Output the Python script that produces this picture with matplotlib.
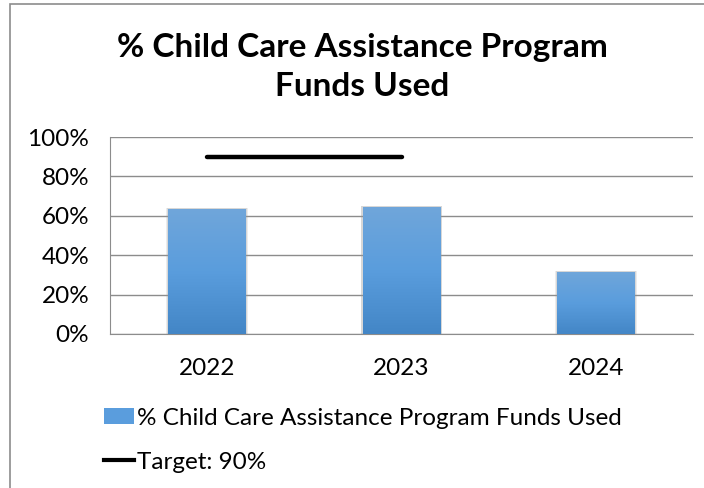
import matplotlib
matplotlib.use("Agg")
import matplotlib.pyplot as plt
import numpy as np
from matplotlib.patches import Rectangle, Patch
from matplotlib.lines import Line2D
from matplotlib.colors import LinearSegmentedColormap

years = ["2022", "2023", "2024"]
funds_used = [63.5, 64.5, 31.5]
target_years = ["2022", "2023"]
target_value = [90, 90]
yticks = [0, 20, 40, 60, 80, 100]
title = "% Child Care Assistance Program\nFunds Used"
bar_label = "% Child Care Assistance Program Funds Used"
target_label = "Target: 90%"

FONT = "Lato"
W, H = 704, 488
fig = plt.figure(figsize=(W / 100, H / 100), dpi=100)
fig.patch.set_facecolor("white")

# outer border
fig.add_artist(Rectangle((10 / W, -0.1), 1.2, 1 - 4 / H + 0.1, transform=fig.transFigure,
                         fill=False, edgecolor="#8c8c8c", linewidth=1.2))

ax = fig.add_axes([110 / W, 1 - 334 / H, (693 - 110) / W, (334 - 137) / H])
x = np.arange(len(years))
bars = ax.bar(x, funds_used, width=0.40, color="none", zorder=3)

cmap = LinearSegmentedColormap.from_list("g", ["#4386c6", "#5a9ddd", "#70a6da"])
grad = np.linspace(0, 1, 256).reshape(-1, 1)
for b in bars:
    bx, by, bw, bh = b.get_x(), b.get_y(), b.get_width(), b.get_height()
    # soft shadow
    for k, a in [(0.010, 0.18), (0.006, 0.25)]:
        ax.add_patch(Rectangle((bx - k, by), bw + 2 * k, bh + 0.4, facecolor="#9a9a9a",
                               edgecolor="none", alpha=a, zorder=2))
    im = ax.imshow(grad, extent=(bx, bx + bw, by, by + bh), origin="lower",
                   cmap=cmap, aspect="auto", zorder=3)
    im.set_clip_path(b)

tx = [years.index(t) for t in target_years]
ax.plot(tx, target_value, color="black", linewidth=3.2, solid_capstyle="round", zorder=4)

ax.set_xlim(-0.5, len(years) - 0.5)
ax.set_ylim(0, 100)
ax.set_yticks(yticks)
ax.set_yticklabels([f"{v}%" for v in yticks], fontsize=17.5, family=FONT)
ax.set_xticks(x)
ax.set_xticklabels(years, fontsize=17.5, family=FONT)
ax.tick_params(axis="y", length=0, pad=15)
ax.tick_params(axis="x", length=0, pad=17)
ax.grid(axis="y", color="#8c8c8c", linewidth=1.0, zorder=0)
ax.set_axisbelow(True)
for s in ["top", "right"]:
    ax.spines[s].set_visible(False)
ax.spines["left"].set_color("#8c8c8c")
ax.spines["bottom"].set_color("#8c8c8c")

fig.text(362 / W, 1 - 67 / H, title, ha="center", va="center", fontsize=24,
         fontweight="bold", family=FONT, linespacing=1.45)

handles = [Patch(facecolor="#5a9ddd", edgecolor="none"),
           Line2D([0], [0], color="black", linewidth=3)]
leg = fig.legend(handles, [bar_label, target_label], loc="upper left",
                 bbox_to_anchor=(94 / W, 1 - 398 / H), frameon=False,
                 prop={"family": FONT, "size": 17.5}, handlelength=1.25,
                 handleheight=0.65, handletextpad=0.12, labelspacing=0.95,
                 borderaxespad=0)

fig.savefig("out.png", dpi=100)
